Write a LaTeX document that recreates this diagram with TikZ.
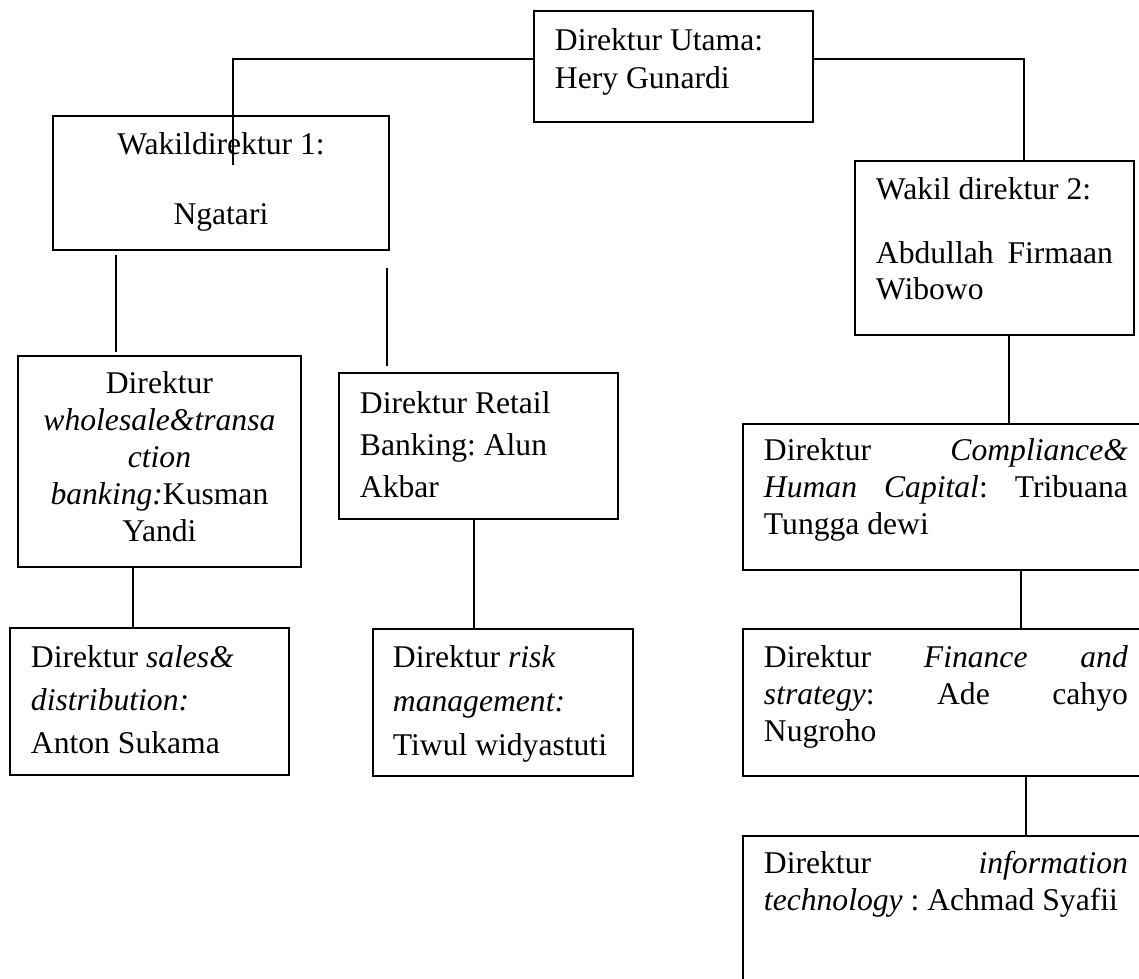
\documentclass[tikz,border=0pt]{standalone}
\usepackage{fontspec}
\setmainfont{Liberation Serif}
\usepackage{xcolor}
\definecolor{orgBorder}{HTML}{000000}
\frenchspacing

\begin{document}
\begin{tikzpicture}[
        x=0.02cm, y=-0.02cm,
        block/.style={
            draw=orgBorder,
            line width=1.1pt,
            anchor=north west,
            inner xsep=0.42cm,
            inner ysep=0pt,
            text width=4.74cm,
            align=flush left,
            font=\fontsize{18}{24.2}\selectfont
        },
        blockcenter/.style={
            block,
            align=flush center,
            font=\fontsize{18}{21}\selectfont
        },
        blockwide/.style={
            block,
            text width=7.28cm,
            font=\fontsize{18}{21}\selectfont
        },
        link/.style={
            line width=1.1pt,
            draw=orgBorder
        }
    ]

    \useasboundingbox (0,0) rectangle (1139,978);
    \clip (0,0) rectangle (1139,978);

    \node[block, font=\fontsize{18}{21.6}\selectfont, text height=0.8cm, text depth=1.42cm] (utama) at (533,10) {Direktur Utama:\\Hery Gunardi};
    \node[blockcenter, text width=5.88cm, text height=0.78cm, text depth=1.9cm] (wakilsatu) at (52,115) {Wakildirektur 1:\\[18.3pt]Ngatari};
    \node[block, font=\fontsize{18}{21}\selectfont, text height=0.78cm, text depth=2.7cm] (wakildua) at (854,160) {Wakil direktur 2:\\[14.9pt]Abdullah\hfill Firmaan\\Wibowo};

    \node[blockcenter, inner xsep=0.1cm, text width=5.46cm, text height=0.76cm, text depth=3.46cm] (wholesale) at (17,355) {Direktur\\\textit{wholesale\&transa}\\\textit{ction}\\\textit{banking:}Kusman\\Yandi};
    \node[block, text height=0.8cm, text depth=2.14cm] (sales) at (9,627) {Direktur \textit{sales\&}\\\textit{distribution:}\\Anton Sukama};
    \node[block, font=\fontsize{18}{23.9}\selectfont, text height=0.82cm, text depth=2.1cm] (retail) at (338,372) {Direktur Retail\\Banking: Alun\\Akbar};
    \node[block, inner xsep=0.4cm, text width=4.4cm, font=\fontsize{18}{25}\selectfont, text height=0.78cm, text depth=2.16cm] (risiko) at (372,628) {Direktur \textit{risk}\\\textit{management:}\\\mbox{Tiwul widyastuti}};

    \node[blockwide, text height=0.74cm, text depth=2.18cm] (kepatuhan) at (742,423) {Direktur\hfill\textit{Compliance\&}\\\textit{Human}\hfill\textit{Capital}:\hfill Tribuana\\Tungga dewi};
    \node[blockwide, text height=0.78cm, text depth=2.16cm] (keuangan) at (742,628) {Direktur\hfill\textit{Finance}\hfill\textit{and}\\\textit{strategy}:\hfill Ade\hfill cahyo\\Nugroho};
    \node[blockwide, text height=0.76cm, text depth=3.5cm] (teknologi) at (742,835) {Direktur\hfill\textit{information}\\\mbox{\textit{technology} : Achmad Syafii}};

    \coordinate (kiriatas) at (116,255);
    \coordinate (kiribawah) at (116,352);
    \coordinate (kananatas) at (387,268);
    \coordinate (kananbawah) at (387,366);

    \draw[link] ([yshift=0.15cm]utama.west) -| ([xshift=0.24cm,yshift=-1cm]wakilsatu.north);
    \draw[link] ([yshift=0.15cm]utama.east) -| ([xshift=0.59cm]wakildua.north);

    \draw[link] (kiriatas) -- (kiribawah);
    \draw[link] (kananatas) -- (kananbawah);

    \draw[link] ([xshift=-0.53cm]wholesale.south) -- ([xshift=-0.53cm]wholesale.south |- sales.north);
    \draw[link] ([xshift=-0.09cm]retail.south) -- ([xshift=-0.09cm]retail.south |- risiko.north);

    \draw[link] ([xshift=0.29cm]wakildua.south) -- ([xshift=0.29cm]wakildua.south |- kepatuhan.north);
    \draw[link] ([xshift=1.5cm]kepatuhan.south) -- ([xshift=1.5cm]kepatuhan.south |- keuangan.north);
    \draw[link] ([xshift=1.6cm]keuangan.south) -- ([xshift=1.6cm]keuangan.south |- teknologi.north);

\end{tikzpicture}
\end{document}
